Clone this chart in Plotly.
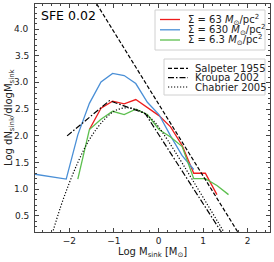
import plotly.graph_objects as go

# bin centres (log M_sink)
bins = [-2.07, -1.81, -1.55, -1.29, -1.03, -0.77, -0.51, -0.25, 0.01, 0.27, 0.53, 0.79, 1.05, 1.31, 1.57]

blue_x = [-2.83] + bins[0:12]
blue_y = [1.29, 1.19, 2.02, 2.61, 3.01, 3.17, 3.13, 2.98, 2.63, 2.40, 2.00, 1.63, 1.37]

red_x = bins[2:14]
red_y = [2.12, 2.52, 2.65, 2.60, 2.68, 2.53, 2.38, 2.17, 1.82, 1.30, 1.30, 0.90]

green_x = bins[1:15]
green_y = [1.19, 2.12, 2.31, 2.46, 2.40, 2.50, 2.40, 2.12, 1.98, 1.80, 1.20, 1.20, 1.07, 0.90]

salp_x = [-1.6, 2.0]
salp_y = [4.76, -0.10]

krou_x = [-2.05, -1.10, -0.30, 1.60]
krou_y = [2.00, 2.66, 2.42, -0.05]

chab_x = [-2.4, -2.2, -2.0, -1.8, -1.6, -1.4, -1.2, -1.0, -0.8, -0.6, -0.4, -0.2, 0.0, 1.6]
chab_y = [0.12, 0.66, 1.12, 1.52, 1.86, 2.12, 2.32, 2.46, 2.52, 2.52, 2.46, 2.35, 2.17, 0.01]

x_ticks = [-2, -1, 0, 1, 2]
y_ticks = [0.5, 1.0, 1.5, 2.0, 2.5, 3.0, 3.5, 4.0]
y_tick_labels = ["0.5", "1.0", "1.5", "2.0", "2.5", "3.0", "3.5", "4.0"]

series_names = ["Σ = 63 <i>M</i><sub>⊙</sub>/pc<sup>2</sup>",
                "Σ = 630 <i>M</i><sub>⊙</sub>/pc<sup>2</sup>",
                "Σ = 6.3 <i>M</i><sub>⊙</sub>/pc<sup>2</sup>"]
ref_names = ["Salpeter 1955", "Kroupa 2002", "Chabrier 2005"]

FONT = "DejaVu Sans"
W, H = 274, 262
L, R, T, B = 35, 4, 4, 30
PW, PH = W - L - R, H - T - B


def px(xp):
    return (xp - L) / PW


def py(yp):
    return (H - B - yp) / PH


colors = ["#ee1c1c", "#4a8fd6", "#5cbf4e"]
ref_dash = ["4px,2px", "6px,2px,1.5px,2px", "1.2px,1.8px"]

fig = go.Figure()
for xs, ys, c, n in zip([red_x, blue_x, green_x], [red_y, blue_y, green_y], colors, series_names):
    fig.add_trace(go.Scatter(x=xs, y=ys, mode="lines", line=dict(color=c, width=1.3),
                             name=n, showlegend=False))

fig.add_trace(go.Scatter(x=salp_x, y=salp_y, mode="lines",
                         line=dict(color="black", width=1.2, dash=ref_dash[0]),
                         name=ref_names[0], showlegend=False))
fig.add_trace(go.Scatter(x=krou_x, y=krou_y, mode="lines",
                         line=dict(color="black", width=1.2, dash=ref_dash[1]),
                         name=ref_names[1], showlegend=False))
fig.add_trace(go.Scatter(x=chab_x, y=chab_y, mode="lines", line_shape="spline",
                         line=dict(color="black", width=1.2, dash=ref_dash[2]),
                         name=ref_names[2], showlegend=False))

axis_common = dict(
    showline=True, linecolor="#444", linewidth=1, mirror="ticks",
    ticks="inside", ticklen=4, tickwidth=1, tickcolor="#444",
    showgrid=False, zeroline=False, automargin=False,
    tickfont=dict(family=FONT, size=9, color="#222"),
)

fig.update_xaxes(range=[-2.77, 2.5], tickvals=x_ticks, ticktext=["−2", "−1", "0", "1", "2"],
                 minor=dict(dtick=0.2, ticks="inside", ticklen=2, tickcolor="#444"),
                 **axis_common)
fig.update_yaxes(range=[0.2, 4.47], tickvals=y_ticks, showticklabels=False,
                 minor=dict(dtick=0.1, ticks="inside", ticklen=2, tickcolor="#444"),
                 **axis_common)

shapes = []
annotations = []
# y tick labels placed on the y scale
for v, t in zip(y_ticks, y_tick_labels):
    annotations.append(dict(text=t, x=px(31), y=v, xref="paper", yref="y", xanchor="right",
                            yanchor="middle", showarrow=False, font=dict(family=FONT, size=9, color="#222")))
# legend 1 (simulations)
shapes.append(dict(type="rect", xref="paper", yref="paper", x0=px(155), x1=px(265), y0=py(50), y1=py(10),
                   line=dict(color="#d0d0d0", width=1), fillcolor="white", layer="above"))
for yy, c, n in zip([19.5, 29.8, 40.0], colors, series_names):
    shapes.append(dict(type="line", xref="paper", yref="paper", x0=px(160), x1=px(180), y0=py(yy), y1=py(yy),
                       line=dict(color=c, width=1.3), layer="above"))
    annotations.append(dict(text=n, x=px(186), y=py(yy), xref="paper", yref="paper", xanchor="left",
                            yanchor="middle", showarrow=False, font=dict(family=FONT, size=10, color="#222")))
# legend 2 (reference IMFs)
shapes.append(dict(type="rect", xref="paper", yref="paper", x0=px(164), x1=px(265), y0=py(95), y1=py(59),
                   line=dict(color="#d0d0d0", width=1), fillcolor="white", layer="above"))
for yy, d, n in zip([68.3, 77.6, 87.0], ref_dash, ref_names):
    shapes.append(dict(type="line", xref="paper", yref="paper", x0=px(168), x1=px(188), y0=py(yy), y1=py(yy),
                       line=dict(color="black", width=1.2, dash=d), layer="above"))
    annotations.append(dict(text=n, x=px(193), y=py(yy), xref="paper", yref="paper", xanchor="left",
                            yanchor="middle", showarrow=False, font=dict(family=FONT, size=10, color="#222")))

annotations.append(dict(text="SFE 0.02", x=px(39), y=py(6), xref="paper", yref="paper",
                        xanchor="left", yanchor="top", showarrow=False,
                        font=dict(family=FONT, size=12.5, color="black")))
annotations.append(dict(text="Log M<sub>sink</sub> [M<sub>⊙</sub>]", x=px(152), y=py(252),
                        xref="paper", yref="paper", xanchor="center", yanchor="middle", showarrow=False,
                        font=dict(family=FONT, size=10, color="#222")))
annotations.append(dict(text="Log dN<sub>sink</sub>/dlogM<sub>sink</sub>", x=px(9), y=py(117),
                        xref="paper", yref="paper", xanchor="center", yanchor="middle", showarrow=False,
                        textangle=-90, font=dict(family=FONT, size=10, color="#222")))

fig.update_layout(
    width=W, height=H,
    margin=dict(l=L, r=R, t=T, b=B),
    paper_bgcolor="white", plot_bgcolor="white",
    showlegend=False,
    shapes=shapes, annotations=annotations,
)

fig.write_html(
    "out.html",
    config={"staticPlot": True, "displayModeBar": False, "responsive": False},
    post_script=(
        "document.body.style.margin='0';document.body.style.padding='0';"
        "document.body.style.overflow='hidden';"
    ),
)
